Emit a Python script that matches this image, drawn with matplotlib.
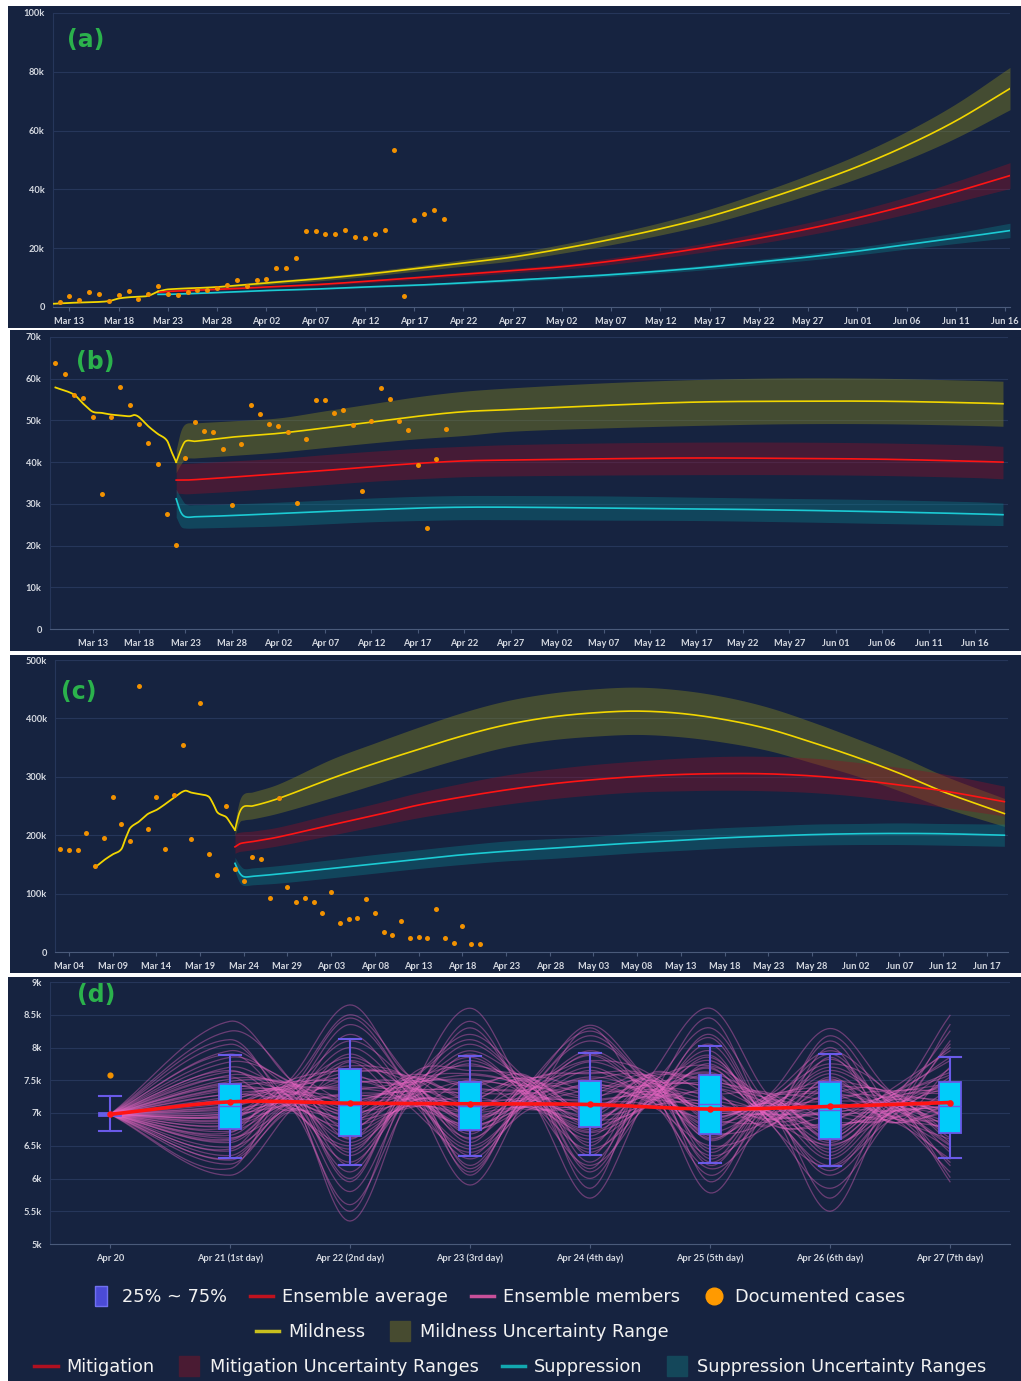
import numpy as np
import pandas as pd
import matplotlib
matplotlib.use('Agg')
import matplotlib.pyplot as plt
import matplotlib.dates as mdates
from matplotlib.lines import Line2D
from matplotlib.patches import Rectangle
from matplotlib.path import Path
from matplotlib.ticker import FuncFormatter, MultipleLocator

plt.rcParams['font.family'] = ['Lato', 'DejaVu Sans']

# ---------------- documented cases (thousands), one value per day ----------------
cases_a_start = "2020-03-12"
cases_a = [1.7, 3.6, 2.3, 5.1, 4.3, 1.9, 4.2, 5.6, 2.7, 4.5, 7.0, 4.5, 4.2, 5.0, 5.7, 5.7,
           6.4, 7.6, 9.1, 7.2, 9.1, 9.4, 13.2, 13.1, 16.8, 26.0, 25.8, 24.9, 24.7, 26.1,
           23.8, 23.3, 24.9, 26.1, 53.5, 3.6, 29.5, 31.7, 33.0, 30.0]
cases_b_start = "2020-03-09"
cases_b = [63.8, 61.2, 56.0, 55.3, 50.9, 32.4, 50.8, 57.9, 53.6, 49.2, 44.6, 39.6, 27.6,
           20.1, 41.0, 49.6, 47.4, 47.2, 43.2, 29.7, 44.4, 53.6, 51.6, 49.2, 48.7, 47.2,
           30.1, 45.6, 54.8, 54.9, 51.9, 52.6, 49.0, 33.1, 49.8, 57.7, 55.2, 49.8, 47.6,
           39.2, 24.1, 40.8, 47.9]
cases_c_start = "2020-03-03"
cases_c = [177, 174.7, 174, 203, 147, 196, 266, 219, 189.5, 455, 210, 266, 175.8, 268, 355,
           193.5, 426, 167, 132, 250, 141.5, 121, 162, 159, 92.5, 264, 112, 86, 93, 86, 66,
           103, 49, 56, 59, 91, 66, 35, 29, 53, 23.4, 25, 24, 74, 24, 15.4, 44, 14.3, 13.7]

# ---------------- panel (a) ----------------
hist_a_dates = ["2020-03-11 08:00", "2020-03-13", "2020-03-15", "2020-03-17", "2020-03-18",
                "2020-03-19", "2020-03-20", "2020-03-21", "2020-03-22"]
hist_a = [1.1, 1.4, 1.6, 2.0, 2.9, 3.3, 3.5, 3.8, 5.3]
fc_a_dates = ["2020-03-22", "2020-03-23", "2020-03-28", "2020-04-02", "2020-04-07", "2020-04-12",
              "2020-04-17", "2020-04-22", "2020-04-27", "2020-05-02", "2020-05-07", "2020-05-12",
              "2020-05-17", "2020-05-22", "2020-05-27", "2020-06-01", "2020-06-06", "2020-06-11",
              "2020-06-16 12:00"]
mild_a = [5.3, 6.0, 6.8, 8.2, 9.5, 11.1, 13.0, 15.0, 17.0, 19.8, 23.0, 26.6, 30.8, 35.9, 41.5, 47.7, 54.9, 63.3, 74.3]
mild_a_lo = [5.0, 5.6, 6.3, 7.6, 8.8, 10.3, 12.1, 13.9, 15.7, 18.3, 21.2, 24.5, 28.3, 33.0, 38.1, 43.7, 50.1, 57.5, 67.1]
mild_a_hi = [5.6, 6.4, 7.3, 8.8, 10.2, 11.9, 13.9, 16.1, 18.3, 21.3, 24.8, 28.7, 33.3, 38.8, 44.9, 51.7, 59.7, 69.1, 81.5]
miti_a = [5.0, 5.3, 6.0, 6.8, 7.6, 8.7, 9.9, 11.1, 12.4, 13.7, 15.6, 17.9, 20.5, 23.4, 26.6, 30.3, 34.5, 39.2, 44.7]
miti_a_lo = [4.8, 5.1, 5.7, 6.5, 7.2, 8.2, 9.3, 10.4, 11.6, 12.8, 14.5, 16.6, 19.0, 21.6, 24.5, 27.8, 31.6, 35.7, 40.3]
miti_a_hi = [5.2, 5.5, 6.3, 7.1, 8.0, 9.2, 10.5, 11.8, 13.2, 14.6, 16.7, 19.2, 22.0, 25.2, 28.7, 32.8, 37.4, 42.7, 49.1]
supp_a = [4.3, 4.3, 4.9, 5.6, 6.1, 6.8, 7.4, 8.2, 9.1, 10.0, 11.0, 12.2, 13.6, 15.3, 17.0, 19.0, 21.2, 23.4, 26.0]
supp_a_lo = [4.2, 4.2, 4.7, 5.4, 5.9, 6.5, 7.1, 7.8, 8.6, 9.5, 10.4, 11.5, 12.8, 14.4, 15.9, 17.7, 19.7, 21.6, 23.6]
supp_a_hi = [4.4, 4.4, 5.1, 5.8, 6.3, 7.1, 7.7, 8.6, 9.6, 10.5, 11.6, 12.9, 14.4, 16.2, 18.1, 20.3, 22.7, 25.2, 28.5]

# ---------------- panel (b) ----------------
hist_b_dates = ["2020-03-09", "2020-03-11", "2020-03-12", "2020-03-13", "2020-03-14", "2020-03-15",
                "2020-03-16", "2020-03-17", "2020-03-17 12:00", "2020-03-18", "2020-03-19",
                "2020-03-20", "2020-03-21", "2020-03-21 12:00", "2020-03-22"]
hist_b = [57.9, 56.2, 54.0, 52.1, 51.8, 51.4, 51.2, 51.0, 51.3, 50.8, 48.6, 46.8, 45.2, 42.5, 40.0]
fc_b_dates = ["2020-03-22", "2020-03-22 12:00", "2020-03-23", "2020-03-24", "2020-03-28", "2020-04-02",
              "2020-04-07", "2020-04-12", "2020-04-17", "2020-04-22", "2020-04-27", "2020-05-07",
              "2020-05-17", "2020-05-27", "2020-06-06", "2020-06-16", "2020-06-19"]
mild_b = [40.0, 43.0, 45.0, 45.0, 46.0, 46.9, 48.2, 49.6, 51.0, 52.1, 52.6, 53.6, 54.4, 54.6, 54.6, 54.2, 54.0]
mild_b_lo = [37.5, 39.5, 40.8, 41.0, 41.6, 42.4, 43.5, 44.6, 45.6, 46.4, 47.4, 48.2, 48.8, 49.2, 49.2, 48.8, 48.6]
mild_b_hi = [43.0, 47.5, 49.2, 49.4, 49.9, 50.6, 52.3, 54.0, 55.7, 57.0, 57.8, 59.0, 59.8, 60.2, 60.1, 59.6, 59.4]
miti_b = [35.7, 35.7, 35.7, 35.8, 36.4, 37.2, 38.0, 38.9, 39.7, 40.3, 40.5, 40.8, 41.0, 40.9, 40.7, 40.2, 40.0]
miti_b_lo = [32.6, 32.5, 32.4, 32.5, 33.0, 33.8, 34.6, 35.4, 36.0, 36.5, 36.7, 36.9, 37.0, 37.0, 36.8, 36.3, 36.0]
miti_b_hi = [39.5, 39.6, 39.7, 39.8, 40.3, 40.9, 41.8, 42.6, 43.3, 43.8, 44.2, 44.6, 44.8, 44.8, 44.6, 44.1, 43.8]
supp_b = [31.2, 28.0, 26.9, 26.9, 27.2, 27.7, 28.2, 28.6, 29.0, 29.2, 29.2, 29.0, 28.8, 28.5, 28.1, 27.6, 27.4]
supp_b_lo = [26.8, 24.6, 24.2, 24.2, 24.4, 24.7, 25.2, 25.7, 26.0, 26.2, 26.2, 26.1, 26.0, 25.7, 25.3, 24.9, 24.8]
supp_b_hi = [33.5, 31.5, 30.0, 29.8, 30.0, 30.4, 30.9, 31.4, 31.8, 32.0, 32.0, 31.9, 31.6, 31.3, 31.0, 30.5, 30.2]

# ---------------- panel (c) ----------------
hist_c_dates = ["2020-03-07", "2020-03-08", "2020-03-09", "2020-03-10", "2020-03-10 12:00", "2020-03-11",
                "2020-03-12", "2020-03-13", "2020-03-14", "2020-03-15", "2020-03-16", "2020-03-17 06:00",
                "2020-03-18", "2020-03-19", "2020-03-20", "2020-03-20 12:00", "2020-03-21", "2020-03-22",
                "2020-03-22 12:00", "2020-03-23"]
hist_c = [145, 157, 167, 176, 195, 212, 223, 236, 243, 253, 264, 276, 273, 270, 266, 254, 239, 231, 220, 209]
fc_c_dates = ["2020-03-23", "2020-03-23 12:00", "2020-03-24", "2020-03-25", "2020-03-28", "2020-04-03",
              "2020-04-08", "2020-04-13", "2020-04-18", "2020-04-23", "2020-04-28", "2020-05-03",
              "2020-05-08", "2020-05-13", "2020-05-18", "2020-05-23", "2020-05-28", "2020-06-02",
              "2020-06-07", "2020-06-12", "2020-06-19"]
mild_c = [209, 238, 249, 250, 263, 297, 323, 347, 370, 389, 402, 409.5, 412.5, 408.5, 398, 382, 359, 334, 306, 274.5, 237]
mild_c_lo = [200, 222, 226, 228, 238, 264, 287, 310, 332, 351, 363, 369.5, 372.5, 368.5, 359, 345, 324, 302, 276, 247.5, 215]
mild_c_hi = [222, 258, 271, 274, 288, 330, 358, 385, 410, 430, 443, 450.5, 453.5, 448.5, 437, 419, 394, 366, 336, 302.5, 263]
miti_c = [180, 185, 187, 189, 197, 217.5, 234, 251.7, 265.5, 277.5, 287.5, 295, 300.5, 304, 305.5, 305, 301.5, 295, 286, 276, 257.4]
miti_c_lo = [169, 172, 173, 175, 182, 200, 215, 230, 242, 253, 262, 269, 274, 276, 277, 276, 273, 267, 258, 248, 233]
miti_c_hi = [203, 205, 206, 207, 214, 236, 254, 273, 289, 303, 313, 321, 327, 332, 335, 335, 332, 325, 316, 305, 284]
supp_c = [151.8, 136, 129, 129.6, 133.6, 143, 151, 159, 166.5, 172.5, 177.5, 182.5, 187, 191.5, 195.5, 198.5, 201, 202.5, 203, 202.5, 200]
supp_c_lo = [138, 120, 114, 115, 118, 127, 135, 143, 150, 156, 160, 165, 170, 174, 178, 181, 183, 184, 184, 183, 181]
supp_c_hi = [162, 150, 143, 144, 148, 158, 167, 175, 183, 190, 194, 198, 204, 209, 213, 216, 219, 220, 221, 220, 219]

# ---------------- panel (d): 7-day ensemble ----------------
days_d = ["Apr 20", "Apr 21 (1st day)", "Apr 22 (2nd day)", "Apr 23 (3rd day)",
          "Apr 24 (4th day)", "Apr 25 (5th day)", "Apr 26 (6th day)", "Apr 27 (7th day)"]
whislo = [6.72, 6.32, 6.21, 6.35, 6.36, 6.23, 6.19, 6.32]
q1 = [6.96, 6.75, 6.65, 6.74, 6.78, 6.68, 6.61, 6.70]
med = [6.98, 7.10, 7.12, 7.10, 7.12, 7.13, 7.05, 7.11]
q3 = [7.00, 7.45, 7.67, 7.47, 7.49, 7.58, 7.48, 7.47]
whishi = [7.26, 7.89, 8.13, 7.87, 7.91, 8.03, 7.90, 7.85]
ens_mean = [6.98, 7.17, 7.15, 7.14, 7.13, 7.06, 7.10, 7.16]
doc_apr20 = 7.58

# ensemble member values for day 1..7 (one row per day, one column per member)
members = [
    [7.12, 6.48, 7.85, 6.90, 7.40, 6.22, 7.63, 7.05, 6.78, 8.12, 6.60, 7.30, 6.95, 7.52, 6.35, 7.18, 8.40, 6.72, 7.00, 7.45,
     6.05, 7.25, 6.85, 7.70, 6.55, 7.10, 7.95, 6.66, 7.35, 6.92, 7.58, 6.28, 7.22, 6.80, 7.48, 6.98, 8.25, 6.42, 7.15, 7.02,
     6.62, 7.38, 6.88, 7.78, 6.30, 7.08, 7.55, 6.70, 8.05, 6.95, 7.28, 6.45, 7.42, 6.82, 7.65, 6.15, 7.20, 6.98, 7.90, 6.58],
    [6.20, 7.80, 7.05, 5.35, 8.10, 6.70, 7.45, 6.90, 8.65, 6.45, 7.25, 7.68, 5.80, 7.15, 6.62, 8.35, 7.00, 6.98, 7.55, 6.10,
     7.90, 7.35, 6.80, 8.50, 6.55, 7.20, 7.62, 6.35, 7.10, 5.60, 7.72, 6.88, 7.40, 8.00, 6.75, 7.30, 6.00, 7.12, 6.95, 7.50,
     7.58, 6.40, 8.20, 6.85, 7.02, 5.95, 7.78, 6.60, 7.28, 8.45, 6.25, 7.48, 6.92, 7.85, 6.50, 7.18, 5.50, 7.65, 6.78, 7.38],
    [7.60, 6.30, 7.20, 8.60, 6.85, 7.00, 6.10, 7.48, 7.95, 6.72, 7.30, 6.55, 7.12, 8.20, 6.95, 5.90, 7.40, 6.80, 7.75, 7.05,
     6.40, 7.52, 8.40, 6.68, 7.18, 7.35, 6.20, 7.85, 6.90, 7.08, 6.60, 7.25, 8.05, 6.78, 7.45, 6.50, 7.65, 7.02, 6.88, 7.15,
     6.82, 7.72, 6.45, 7.22, 7.90, 6.15, 7.50, 6.98, 8.30, 6.62, 7.10, 7.58, 6.35, 7.38, 6.92, 8.12, 6.05, 7.28, 6.75, 7.80],
    [6.85, 7.55, 6.25, 7.10, 8.34, 6.70, 7.30, 5.70, 7.80, 6.95, 7.42, 6.50, 7.65, 7.05, 6.80, 8.10, 6.35, 7.20, 7.50, 6.00,
     7.15, 7.95, 6.90, 7.35, 6.60, 7.00, 8.25, 6.75, 7.25, 6.45, 7.60, 7.12, 6.82, 7.70, 6.15, 7.40, 7.02, 6.92, 7.88, 7.18,
     7.45, 6.55, 7.90, 6.95, 6.20, 7.62, 7.08, 5.85, 7.35, 8.18, 6.72, 7.22, 6.40, 7.78, 6.88, 7.52, 6.10, 7.00, 8.30, 6.65],
    [7.40, 6.15, 8.60, 6.80, 7.05, 7.70, 5.78, 7.25, 6.62, 8.05, 7.15, 6.40, 7.58, 6.95, 7.85, 6.05, 7.30, 6.70, 8.30, 7.00,
     6.50, 7.62, 7.10, 6.88, 7.95, 6.25, 7.45, 6.72, 7.20, 8.15, 6.58, 7.35, 6.92, 7.68, 6.30, 7.12, 7.50, 6.85, 7.80, 7.02,
     6.90, 7.72, 6.35, 7.48, 8.45, 6.60, 7.18, 5.95, 7.88, 6.78, 7.30, 6.20, 7.60, 7.05, 8.20, 6.45, 7.40, 6.95, 7.75, 6.65],
    [6.55, 7.60, 7.00, 5.50, 7.90, 6.80, 7.30, 6.20, 8.29, 6.95, 7.45, 6.40, 7.15, 7.75, 5.85, 7.05, 6.68, 8.10, 7.25, 6.50,
     7.52, 6.90, 6.05, 7.40, 7.85, 6.62, 7.10, 6.30, 7.65, 6.85, 7.20, 8.00, 6.75, 7.35, 6.58, 7.02, 7.50, 6.12, 7.08, 6.98,
     7.28, 6.45, 7.82, 6.72, 7.12, 5.70, 7.55, 6.92, 8.18, 6.35, 7.42, 6.62, 7.00, 7.70, 6.18, 7.32, 6.80, 7.95, 6.52, 7.18],
    [7.20, 6.60, 7.80, 6.95, 8.49, 6.30, 7.40, 7.05, 6.75, 8.10, 6.50, 7.30, 7.12, 5.95, 7.55, 6.85, 7.95, 7.00, 6.40, 7.48,
     7.15, 6.68, 8.25, 6.90, 7.35, 6.20, 7.62, 7.08, 6.80, 7.25, 6.55, 7.70, 7.02, 6.72, 8.00, 6.10, 7.45, 6.98, 7.18, 7.10,
     6.88, 7.58, 6.45, 7.32, 8.35, 6.62, 7.05, 7.85, 6.25, 7.40, 6.78, 7.15, 8.05, 6.52, 7.25, 6.02, 7.68, 6.95, 7.50, 6.70],
]
# members squeeze together half-way between consecutive days
pinch_level = [7.27, 7.33, 7.30, 7.35, 7.05, 7.10]
pinch_offset = [0.08, -0.14, 0.20, -0.03, 0.15, -0.22, 0.05, -0.10, 0.24, -0.17, 0.00, 0.12, -0.07, 0.19, -0.20,
                0.03, 0.25, -0.12, 0.10, -0.02, -0.24, 0.14, -0.08, 0.22, -0.15, 0.02, 0.17, -0.05, 0.07, -0.19,
                0.20, -0.25, 0.10, -0.03, 0.15, -0.14, 0.24, -0.10, 0.05, -0.07,
                -0.18, 0.11, -0.06, 0.21, -0.12, 0.04, -0.23, 0.16, -0.01, 0.09, -0.16, 0.13, -0.09, 0.06, -0.21,
                0.18, -0.04, 0.23, -0.11, 0.01]

# ---------------- styling ----------------
BG = '#162340'
GRID = '#26365a'
AXIS = '#4a5a7a'
TXT = '#d4d8e0'
YEL, RED, CYN = '#f2d600', '#ff1414', '#1ccbd4'
YEL_F, RED_F, CYN_F = '#8a8a1e', '#8c1028', '#0a7a88'
ORANGE = '#f29100'
W, H = 1021, 1381


def px_box(l, t, r, b):
    return [l / W, 1 - b / H, (r - l) / W, (b - t) / H]


def num(dates):
    return mdates.datestr2num(dates)


def smooth(x, y, n=24):
    # cubic hermite curve through the points, tangents from neighbours
    x = np.asarray(x, float)
    y = np.asarray(y, float)
    m = np.empty_like(y)
    m[1:-1] = (y[2:] - y[:-2]) / (x[2:] - x[:-2])
    m[0] = (y[1] - y[0]) / (x[1] - x[0])
    m[-1] = (y[-1] - y[-2]) / (x[-1] - x[-2])
    t = np.linspace(0, 1, n, endpoint=False)
    h00 = 2 * t**3 - 3 * t**2 + 1
    h10 = t**3 - 2 * t**2 + t
    h01 = -2 * t**3 + 3 * t**2
    h11 = t**3 - t**2
    xs, ys = [], []
    for i in range(len(x) - 1):
        h = x[i + 1] - x[i]
        xs.append(x[i] + t * h)
        ys.append(h00 * y[i] + h10 * h * m[i] + h01 * y[i + 1] + h11 * h * m[i + 1])
    xs.append([x[-1]])
    ys.append([y[-1]])
    return np.concatenate(xs), np.concatenate(ys)


def kfmt(v, pos):
    if abs(v) < 1e-9:
        return '0'
    return f'{v:g}k'


def bold_ticks(ax):
    for lab in ax.get_xticklabels() + ax.get_yticklabels():
        lab.set_fontweight('bold')


def style(ax):
    ax.set_facecolor(BG)
    ax.grid(axis='y', color=GRID, lw=0.8)
    ax.set_axisbelow(True)
    for s in ['top', 'right']:
        ax.spines[s].set_visible(False)
    ax.spines['left'].set_color(GRID)
    ax.spines['bottom'].set_color(AXIS)
    ax.tick_params(axis='y', length=0, pad=6, labelsize=6.7, labelcolor=TXT)
    ax.tick_params(axis='x', length=3, color=AXIS, pad=4, labelsize=6.7, labelcolor=TXT)
    ax.yaxis.set_major_formatter(FuncFormatter(kfmt))


def scenario_panel(ax, cstart, cvals, hd, hv, fd, series, xlim, ylim, step, first_tick, last_tick):
    style(ax)
    x = num(fd)
    for (mid, lo, hi), fcol in zip(series, [YEL_F, RED_F, CYN_F]):
        sx, slo = smooth(x, lo)
        _, shi = smooth(x, hi)
        ax.fill_between(sx, slo, shi, color=fcol, alpha=0.4, lw=0, zorder=1)
    for (mid, lo, hi), col in zip(series, [YEL, RED, CYN]):
        sx, sm = smooth(x, mid)
        ax.plot(sx, sm, color=col, lw=1.2, zorder=3)
    hx, hy = smooth(num(hd), hv)
    ax.plot(hx, hy, color=YEL, lw=1.3, zorder=3)
    cd = mdates.date2num(pd.date_range(cstart, periods=len(cvals), freq='D'))
    ax.scatter(cd, cvals, s=13, color=ORANGE, zorder=4, lw=0)
    ax.set_xlim(num(xlim))
    ax.set_ylim(ylim)
    ax.yaxis.set_major_locator(MultipleLocator(step))
    ax.set_xticks(np.arange(num([first_tick])[0], num([last_tick])[0] + 0.5, 5))
    ax.xaxis.set_major_formatter(mdates.DateFormatter('%b %d'))
    bold_ticks(ax)


fig = plt.figure(figsize=(W / 100, H / 100), dpi=100, facecolor='white')

# dark panel backgrounds, kept underneath the axes
for l, t, r, b in [(8, 6, 1021, 328), (10, 330, 1021, 651), (10, 655, 1021, 973), (8, 977, 1021, 1381)]:
    x0, y0, w, h = px_box(l, t, r, b)
    fig.patches.append(Rectangle((x0, y0), w, h, transform=fig.transFigure, facecolor=BG,
                                 edgecolor='none', zorder=-10))

ax_a = fig.add_axes(px_box(53, 13, 1010, 307))
scenario_panel(ax_a, cases_a_start, cases_a, hist_a_dates, hist_a, fc_a_dates,
               [(mild_a, mild_a_lo, mild_a_hi), (miti_a, miti_a_lo, miti_a_hi), (supp_a, supp_a_lo, supp_a_hi)],
               ["2020-03-11 08:00", "2020-06-16 12:00"], (0, 100), 20, "2020-03-13", "2020-06-16")

ax_b = fig.add_axes(px_box(50, 337, 1008, 629))
scenario_panel(ax_b, cases_b_start, cases_b, hist_b_dates, hist_b, fc_b_dates,
               [(mild_b, mild_b_lo, mild_b_hi), (miti_b, miti_b_lo, miti_b_hi), (supp_b, supp_b_lo, supp_b_hi)],
               ["2020-03-08 10:00", "2020-06-19 13:00"], (0, 70), 10, "2020-03-13", "2020-06-16")

ax_c = fig.add_axes(px_box(55, 660, 1008, 952))
scenario_panel(ax_c, cases_c_start, cases_c, hist_c_dates, hist_c, fc_c_dates,
               [(mild_c, mild_c_lo, mild_c_hi), (miti_c, miti_c_lo, miti_c_hi), (supp_c, supp_c_lo, supp_c_hi)],
               ["2020-03-02 10:00", "2020-06-19 10:00"], (0, 500), 100, "2020-03-04", "2020-06-17")

# ---- panel (d)
ax_d = fig.add_axes(px_box(50, 982, 1010, 1244))
style(ax_d)
pos = np.arange(len(days_d))
mx = [0.0]
for d in range(1, 8):
    mx.append(float(d))
    if d < 7:
        mx.append(d + 0.5)
for k in range(len(pinch_offset)):
    my = [ens_mean[0]]
    for d in range(7):
        my.append(members[d][k])
        if d < 6:
            my.append(pinch_level[d] + pinch_offset[k])
    sx, sy = smooth(mx, my)
    ax_d.plot(sx, sy, color='#ea66c4', alpha=0.4, lw=0.9, zorder=1)

stats = [dict(whislo=whislo[i], q1=q1[i], med=med[i], q3=q3[i], whishi=whishi[i], fliers=[])
         for i in range(len(days_d))]
ax_d.bxp(stats, positions=pos, widths=0.19, capwidths=0.19, patch_artist=True, showfliers=False,
         boxprops=dict(facecolor='#00cdfa', edgecolor='#6a5ae8', lw=1.3),
         whiskerprops=dict(color='#6a5ae8', lw=1.5), capprops=dict(color='#6a5ae8', lw=1.5),
         medianprops=dict(color='#6a5ae8', lw=1.0), zorder=2)
sx, sy = smooth(pos, ens_mean)
ax_d.plot(sx, sy, color=RED, lw=2.6, zorder=4)
ax_d.scatter(pos, ens_mean, s=22, color=RED, zorder=5, lw=0)
ax_d.scatter([0], [doc_apr20], s=20, color=ORANGE, zorder=5, lw=0)
ax_d.set_xlim(-0.5, 7.5)
ax_d.set_ylim(5, 9)
ax_d.yaxis.set_major_locator(MultipleLocator(0.5))
ax_d.set_xticks(pos)
ax_d.set_xticklabels(days_d)
bold_ticks(ax_d)

# panel tags
for tag, (x, y) in zip(['(a)', '(b)', '(c)', '(d)'], [(86, 40), (95, 362), (79, 692), (96, 995)]):
    fig.text(x / W, 1 - y / H, tag, color='#2bb24c', fontsize=17, fontweight='bold',
             ha='center', va='center', family='DejaVu Sans')

# legend rows
rect = Path([(-0.3, -0.5), (0.3, -0.5), (0.3, 0.5), (-0.3, 0.5), (-0.3, -0.5)])
rows = [
    ([Line2D([], [], ls='none', marker=rect, markersize=15, markerfacecolor='#4b4bd6', markeredgecolor='#7070f0'),
      Line2D([], [], color='#c0121e', lw=2.5),
      Line2D([], [], color='#c8509a', lw=2.5),
      Line2D([], [], ls='none', marker='o', markersize=12, color='#ff9a00')],
     ['25% ~ 75%', 'Ensemble average', 'Ensemble members', 'Documented cases'], 0.487, 1297),
    ([Line2D([], [], color='#c8bf1e', lw=2.5),
      Line2D([], [], ls='none', marker='s', markersize=14, color='#474b30')],
     ['Mildness', 'Mildness Uncertainty Range'], 0.453, 1332),
    ([Line2D([], [], color='#b01020', lw=2.5),
      Line2D([], [], ls='none', marker='s', markersize=14, color='#4a1b33'),
      Line2D([], [], color='#12a8b0', lw=2.5),
      Line2D([], [], ls='none', marker='s', markersize=14, color='#14475a')],
     ['Mitigation', 'Mitigation Uncertainty Ranges', 'Suppression', 'Suppression Uncertainty Ranges'], 0.5, 1367),
]
for handles, labels, cx, cy in rows:
    fig.legend(handles, labels, loc='center', bbox_to_anchor=(cx, 1 - cy / H), ncol=len(handles),
               frameon=False, handlelength=1.3, handletextpad=0.5, columnspacing=1.3,
               borderaxespad=0, labelcolor='#f2f2f2', prop={'family': 'DejaVu Sans', 'size': 12.8})

fig.savefig('out.png', dpi=100, facecolor='white')
